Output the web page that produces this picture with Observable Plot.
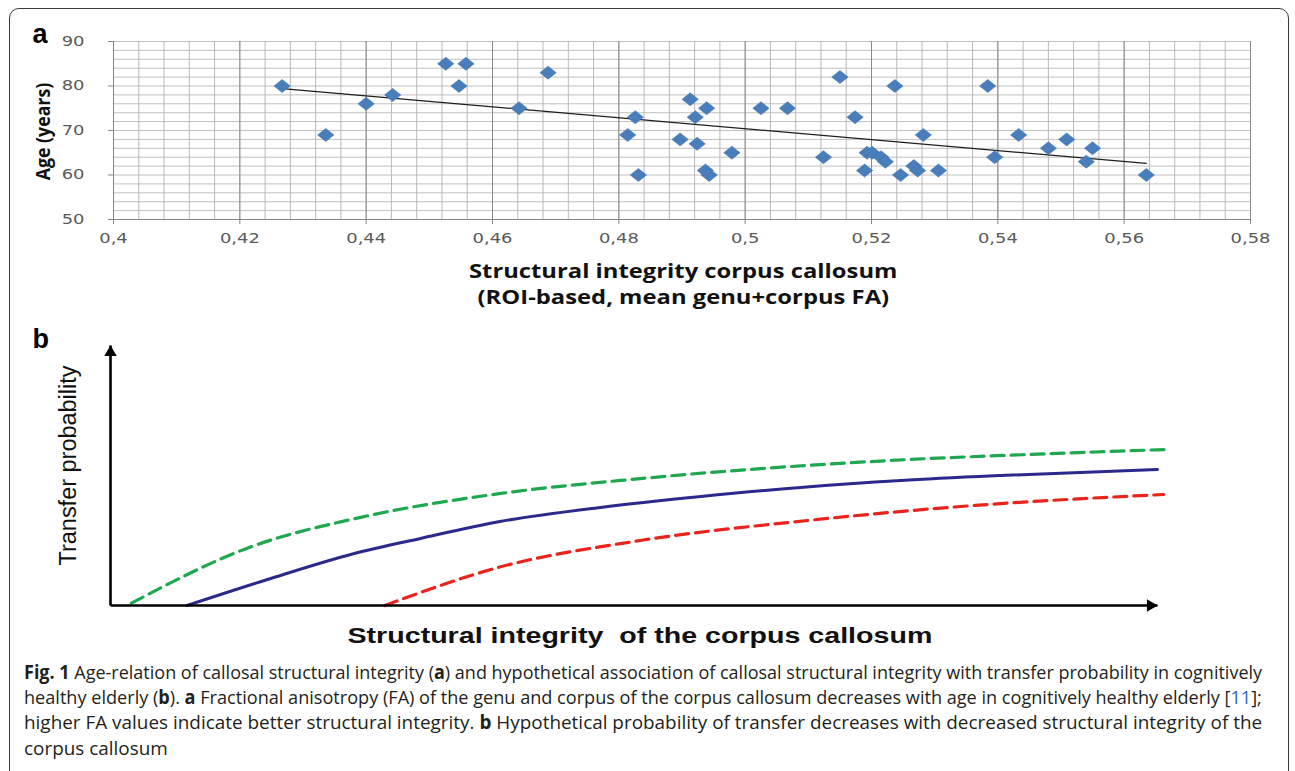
<!DOCTYPE html>
<html><head><meta charset="utf-8">
<script src="https://cdn.jsdelivr.net/npm/d3@7"></script>
<script src="https://cdn.jsdelivr.net/npm/@observablehq/plot@0.6"></script>
<style>
html,body{margin:0;padding:0;background:#fff;}
#fig{position:relative;width:1295px;height:771px;overflow:hidden;background:#fff;}
#frame{position:absolute;left:9px;top:8px;width:1280px;height:800px;border:1.5px solid #3a3a3a;border-radius:10px;box-sizing:border-box;}
.abs{position:absolute;white-space:nowrap;line-height:1;}
.panel{position:absolute;left:0;}
</style>
</head><body>
<div id="fig"><div id="frame"></div></div>
<script>
// ---- Panel a data ----
const faValues = [0.4267,0.4336,0.4400,0.4442,0.4526,0.4547,0.4558,0.4642,0.4688,
  0.4814,0.4826,0.4831,0.4897,0.4913,0.4921,0.4924,0.4937,0.4939,0.4943,
  0.4979,0.5025,0.5067,0.5124,0.5150,0.5174,
  0.5189,0.5193,0.5201,0.5215,0.5222,0.5237,0.5246,0.5267,0.5273,0.5282,0.5306,
  0.5384,0.5395,0.5433,0.5480,0.5509,0.5540,0.5550,0.5635];
const ageValues = [80,69,76,78,85,80,85,75,83,
  69,73,60,68,77,73,67,61,75,60,
  65,75,75,64,82,73,
  61,65,65,64,63,80,60,62,61,69,61,
  80,64,69,66,68,63,66,60];
const trendFA = [0.4267, 0.5635];
const trendAge = [79.4, 62.6];
const xTicks = [0.4,0.42,0.44,0.46,0.48,0.5,0.52,0.54,0.56,0.58];
const xTickLabels = ["0,4","0,42","0,44","0,46","0,48","0,5","0,52","0,54","0,56","0,58"];
const yTicks = [50,60,70,80,90];
const yTickLabels = ["50","60","70","80","90"];

// ---- Panel b data (hypothetical curves, arbitrary units) ----
const greenX = [2.0, 13.3, 24.0, 37.1, 50.6, 74.6, 90.5, 100.8];
const greenY = [0.9, 22.4, 34.0, 43.0, 48.8, 55.8, 58.5, 60.0];
const blueX  = [7.3, 15.0, 23.2, 29.6, 37.2, 46.8, 56.4, 65.9, 75.5, 85.0, 100.0];
const blueY  = [0.0, 10.0, 19.9, 25.8, 32.3, 37.7, 41.9, 45.4, 48.1, 50.0, 52.3];
const redX   = [26.2, 37.1, 50.6, 66.6, 82.6, 100.6];
const redY   = [0.0, 14.7, 25.0, 32.7, 38.5, 42.7];

const fig = document.getElementById("fig");

const pts = faValues.map((x, i) => ({x, y: ageValues[i]}));
const trend = trendFA.map((x, i) => ({x, y: trendAge[i]}));
const minorX = d3.range(0.4, 0.5801, 0.004);
const minorY = d3.range(50, 90.01, 2);

const wideDiamond = {draw(ctx, size) {
  const k = Math.sqrt(size / 2.5), a = 1.25 * k, b = k;
  ctx.moveTo(0, -b); ctx.lineTo(a, 0); ctx.lineTo(0, b); ctx.lineTo(-a, 0); ctx.closePath();
}};

const plotA = Plot.plot({
  width: 1295, height: 300,
  marginLeft: 113, marginRight: 45, marginTop: 41, marginBottom: 81,
  x: {domain: [0.4, 0.58], label: null},
  y: {domain: [50, 90], label: null},
  style: {fontFamily: "DejaVu Sans", fontSize: "14px", color: "#595959", background: "transparent"},
  marks: [
    Plot.ruleY(minorY, {stroke: "#c0c0c0"}),
    Plot.ruleX(minorX, {stroke: "#b8b8b8"}),
    Plot.ruleX(xTicks, {stroke: "#8a8a8a"}),
    Plot.ruleX([0.4], {stroke: "#868686"}),
    Plot.ruleY([50], {stroke: "#868686"}),
    Plot.axisX({ticks: xTicks, tickFormat: d => xTickLabels[xTicks.indexOf(d)], tickSize: 5, tickPadding: 9,
      stroke: "#868686", fontSize: 14, label: null}),
    Plot.axisY({ticks: yTicks, tickFormat: d => yTickLabels[yTicks.indexOf(d)], tickSize: 5, tickPadding: 24,
      stroke: "#868686", fontSize: 14, label: null}),
    Plot.line(trend, {x: "x", y: "y", stroke: "#1e1e1e", strokeWidth: 1.2}),
    Plot.dot(pts, {x: "x", y: "y", symbol: wideDiamond, r: 5.8, fill: "#4a7ebb", stroke: "#3f73b0", strokeWidth: 0.6})
  ]
});
plotA.classList.add("panel");
plotA.style.top = "0px";
fig.appendChild(plotA);
// widen tick label glyphs (the reference figure is horizontally stretched)
plotA.querySelectorAll("text").forEach(t => {
  const L = t.getComputedTextLength();
  if (L > 0) { t.setAttribute("lengthAdjust", "spacingAndGlyphs"); t.setAttribute("textLength", (L * 1.28).toFixed(1)); }
});

const toPts = (xs, ys) => xs.map((x, i) => ({x, y: ys[i]}));
const axesB = [{x1: 0, y1: 0, x2: 0, y2: 100}, {x1: 0, y1: 0, x2: 100, y2: 0}];
const plotB = Plot.plot({
  width: 1295, height: 320,
  marginLeft: 110, marginRight: 138, marginTop: 25, marginBottom: 35,
  x: {domain: [0, 100], axis: null},
  y: {domain: [0, 100], axis: null},
  style: {background: "transparent"},
  marks: [
    Plot.line(toPts(greenX, greenY), {x: "x", y: "y", curve: "monotone-x", stroke: "#1fa84d", strokeWidth: 3.2, strokeDasharray: "13,7"}),
    Plot.line(toPts(blueX, blueY), {x: "x", y: "y", curve: "monotone-x", stroke: "#2b2a8c", strokeWidth: 3}),
    Plot.line(toPts(redX, redY), {x: "x", y: "y", curve: "monotone-x", stroke: "#e8241c", strokeWidth: 3.2, strokeDasharray: "13,7"}),
    Plot.link(axesB, {x1: "x1", y1: "y1", x2: "x2", y2: "y2", stroke: "#000", strokeWidth: 2.6}),
    Plot.dot([{x: 0, y: 100}], {x: "x", y: "y", symbol: "triangle", r: 4.6, fill: "#000", stroke: "none", dy: 7}),
    Plot.dot([{x: 100, y: 0}], {x: "x", y: "y", symbol: "triangle", rotate: 90, r: 4.6, fill: "#000", stroke: "none", dx: -7})
  ]
});
plotB.classList.add("panel");
plotB.style.top = "320px";
fig.appendChild(plotB);

// ---- text helper ----
function addText(html, o) {
  const d = document.createElement("div");
  d.className = "abs";
  d.innerHTML = html;
  Object.assign(d.style, {fontFamily: o.font, fontSize: o.size + "px", fontWeight: o.weight || 400, color: o.color || "#000"});
  fig.appendChild(d);
  const w = d.offsetWidth, h = d.offsetHeight;
  const s = o.width ? o.width / w : (o.scale || 1);
  if (o.left != null) {
    d.style.left = o.left + "px"; d.style.top = (o.cy - h / 2) + "px";
    d.style.transformOrigin = "0 50%"; d.style.transform = `scaleX(${s})`;
  } else {
    d.style.left = (o.cx - w / 2) + "px"; d.style.top = (o.cy - h / 2) + "px";
    d.style.transformOrigin = "50% 50%"; d.style.transform = `rotate(${o.rotate || 0}deg) scaleX(${s})`;
  }
  return s;
}

addText("a", {font: "Liberation Sans", size: 27, weight: 700, cx: 40, cy: 34.5});
addText("b", {font: "Liberation Sans", size: 27, weight: 700, cx: 41, cy: 339});
addText("Age (years)", {font: "Open Sans", size: 19, weight: 700, cx: 43, cy: 131, width: 97, rotate: -90, color: "#111"});
addText("Structural integrity corpus callosum", {font: "Open Sans", size: 19, weight: 700, cx: 683, cy: 271, width: 428, color: "#111"});
addText("(ROI-based, mean genu+corpus FA)", {font: "Open Sans", size: 19, weight: 700, cx: 683, cy: 297, width: 412, color: "#111"});
addText("Transfer probability", {font: "Liberation Sans", size: 23, weight: 400, cx: 68, cy: 465, width: 200, rotate: -90, color: "#111"});
addText("Structural integrity&nbsp; of the corpus callosum", {font: "Liberation Sans", size: 22, weight: 700, cx: 640, cy: 636, width: 585, color: "#111"});

const cap = {font: "Open Sans", size: 19, weight: 400, left: 24, color: "#231f20"};
addText("<b>Fig. 1</b> Age-relation of callosal structural integrity (<b>a</b>) and hypothetical association of callosal structural integrity with transfer probability in cognitively", {...cap, cy: 672, width: 1238});
addText("healthy elderly (<b>b</b>). <b>a</b> Fractional anisotropy (FA) of the genu and corpus of the corpus callosum decreases with age in cognitively healthy elderly [<span style=\"color:#2f5fd0\">11</span>];", {...cap, cy: 697, width: 1238});
const s3 = addText("higher FA values indicate better structural integrity. <b>b</b> Hypothetical probability of transfer decreases with decreased structural integrity of the", {...cap, cy: 722, width: 1238});
addText("corpus callosum", {...cap, cy: 748, scale: s3});
</script>
</body></html>
